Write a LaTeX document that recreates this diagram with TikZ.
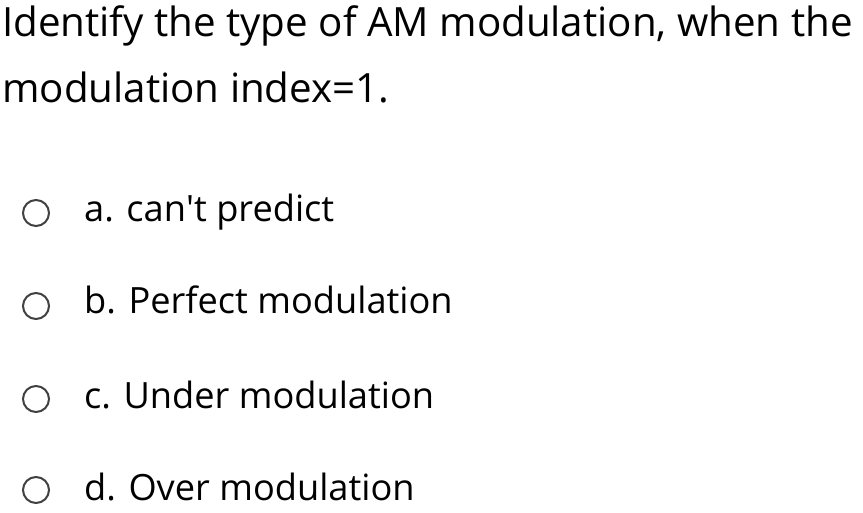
\documentclass[tikz,border=0pt]{standalone}
\usepackage{fontspec}
\setmainfont{Open Sans}
\begin{document}
\begin{tikzpicture}[x=1pt,y=-1pt,
  qtext/.style={anchor=base west,inner sep=0pt,font=\fontsize{40.3}{48}\selectfont},
  opt/.style={anchor=base west,inner sep=0pt,font=\fontsize{36.2}{44}\selectfont},
  radio/.style={circle,draw=black!75,line width=2pt,minimum size=26pt,inner sep=0pt}]
\useasboundingbox (0,0) rectangle (863,513);
\node[qtext] (q1) at (2,37) {Identify the type of AM modulation, when the};
\node[qtext] (q2) at (2,103) {modulation index=1.};
\node[radio] (ra) at (36,213) {};
\node[opt] (a) at (84,222) {a. can\textquotesingle t predict};
\node[radio] (rb) at (36,306) {};
\node[opt] (b) at (84,314) {b. Perfect modulation};
\node[radio] (rc) at (36,399) {};
\node[opt] (c) at (84,408) {c. Under modulation};
\node[radio] (rd) at (36,490) {};
\node[opt] (d) at (84,500) {d. Over modulation};
\end{tikzpicture}
\end{document}
